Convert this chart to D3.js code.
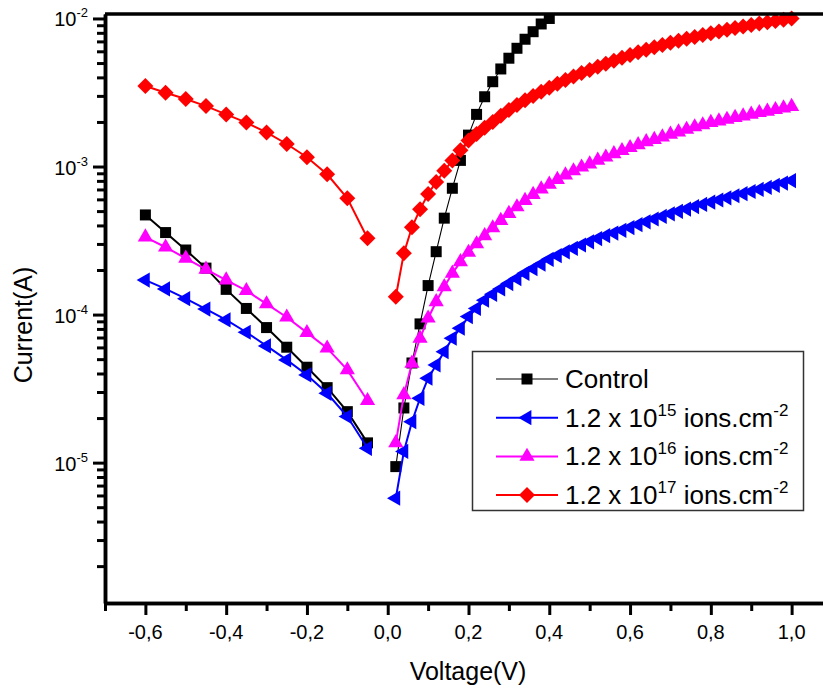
<!DOCTYPE html>
<html>
<head>
<meta charset="utf-8">
<script src="https://cdn.jsdelivr.net/npm/d3@7"></script>
<style>
body { margin: 0; background: #fff; }
text { font-family: Arial, "Liberation Sans", sans-serif; fill: #000; }
</style>
</head>
<body>
<div id="chart"></div>
<script>
// voltages (V)
const vNeg = [-0.6, -0.55, -0.5, -0.45, -0.4, -0.35, -0.3, -0.25, -0.2, -0.15, -0.1, -0.05];
const vPosControl = [0.02, 0.04, 0.06, 0.08, 0.10, 0.12, 0.14, 0.16, 0.18, 0.20,
    0.22, 0.24, 0.26, 0.28, 0.30, 0.32, 0.34, 0.36, 0.38, 0.40];
const vPos = [0.02, 0.04, 0.06, 0.08, 0.10, 0.12, 0.14, 0.16, 0.18, 0.20,
    0.22, 0.24, 0.26, 0.28, 0.30, 0.32, 0.34, 0.36, 0.38, 0.40,
    0.42, 0.44, 0.46, 0.48, 0.50, 0.52, 0.54, 0.56, 0.58, 0.60,
    0.62, 0.64, 0.66, 0.68, 0.70, 0.72, 0.74, 0.76, 0.78, 0.80,
    0.82, 0.84, 0.86, 0.88, 0.90, 0.92, 0.94, 0.96, 0.98, 1.00];

// currents (A)
const controlNeg = [4.71e-4, 3.58e-4, 2.73e-4, 2.06e-4, 1.48e-4, 1.10e-4, 8.17e-5, 6.02e-5, 4.41e-5, 3.21e-5, 2.21e-5, 1.36e-5];
const controlPos = [9.4e-6, 2.34e-5, 4.71e-5, 8.65e-5, 1.57e-4, 2.66e-4, 4.48e-4, 7.13e-4, 1.10e-3, 1.63e-3,
    2.25e-3, 2.96e-3, 3.74e-3, 4.56e-3, 5.39e-3, 6.29e-3, 7.24e-3, 8.14e-3, 9.18e-3, 1.0e-2];

const d15Neg = [1.71e-4, 1.49e-4, 1.28e-4, 1.09e-4, 9.2e-5, 7.6e-5, 6.14e-5, 4.94e-5, 3.91e-5, 2.94e-5, 2.05e-5, 1.25e-5];
const d15Pos = [5.75e-6, 1.19e-5, 1.89e-5, 2.72e-5, 3.72e-5, 4.57e-5, 5.62e-5, 6.92e-5, 8.09e-5, 9.69e-5,
    1.10e-4, 1.25e-4, 1.37e-4, 1.49e-4, 1.62e-4, 1.75e-4, 1.90e-4, 2.04e-4, 2.19e-4, 2.36e-4,
    2.50e-4, 2.65e-4, 2.80e-4, 2.95e-4, 3.10e-4, 3.26e-4, 3.41e-4, 3.55e-4, 3.71e-4, 3.87e-4,
    4.05e-4, 4.23e-4, 4.42e-4, 4.60e-4, 4.79e-4, 4.98e-4, 5.16e-4, 5.36e-4, 5.55e-4, 5.74e-4,
    5.94e-4, 6.15e-4, 6.35e-4, 6.56e-4, 6.78e-4, 7.00e-4, 7.23e-4, 7.46e-4, 7.73e-4, 8.04e-4];

const d16Neg = [3.34e-4, 2.85e-4, 2.40e-4, 2.02e-4, 1.71e-4, 1.45e-4, 1.18e-4, 9.6e-5, 7.55e-5, 5.93e-5, 4.23e-5, 2.62e-5];
const d16Pos = [1.36e-5, 2.87e-5, 4.69e-5, 6.92e-5, 9.45e-5, 1.22e-4, 1.54e-4, 1.90e-4, 2.27e-4, 2.63e-4,
    3.00e-4, 3.40e-4, 3.85e-4, 4.32e-4, 4.81e-4, 5.33e-4, 5.89e-4, 6.46e-4, 7.05e-4, 7.59e-4,
    8.17e-4, 8.75e-4, 9.33e-4, 9.89e-4, 1.04e-3, 1.10e-3, 1.156e-3, 1.22e-3, 1.28e-3, 1.34e-3,
    1.40e-3, 1.47e-3, 1.52e-3, 1.58e-3, 1.65e-3, 1.71e-3, 1.78e-3, 1.85e-3, 1.91e-3, 1.98e-3,
    2.03e-3, 2.08e-3, 2.14e-3, 2.19e-3, 2.25e-3, 2.31e-3, 2.36e-3, 2.42e-3, 2.48e-3, 2.54e-3];

const d17Neg = [3.50e-3, 3.15e-3, 2.86e-3, 2.56e-3, 2.25e-3, 1.98e-3, 1.70e-3, 1.42e-3, 1.155e-3, 8.87e-4, 6.1e-4, 3.28e-4];
const d17Pos = [1.32e-4, 2.60e-4, 3.89e-4, 5.14e-4, 6.53e-4, 7.87e-4, 9.35e-4, 1.10e-3, 1.29e-3, 1.50e-3,
    1.66e-3, 1.83e-3, 2.00e-3, 2.20e-3, 2.41e-3, 2.60e-3, 2.80e-3, 3.00e-3, 3.20e-3, 3.40e-3,
    3.62e-3, 3.84e-3, 4.06e-3, 4.28e-3, 4.49e-3, 4.72e-3, 4.95e-3, 5.19e-3, 5.43e-3, 5.67e-3,
    5.91e-3, 6.15e-3, 6.39e-3, 6.62e-3, 6.85e-3, 7.07e-3, 7.29e-3, 7.51e-3, 7.73e-3, 7.95e-3,
    8.17e-3, 8.39e-3, 8.61e-3, 8.83e-3, 9.05e-3, 9.25e-3, 9.44e-3, 9.63e-3, 9.82e-3, 1.0e-2];

const xMajor = [-0.6, -0.4, -0.2, 0.0, 0.2, 0.4, 0.6, 0.8, 1.0];
const xMinor = [-0.7, -0.5, -0.3, -0.1, 0.1, 0.3, 0.5, 0.7, 0.9];
const yMajorExp = [-5, -4, -3, -2];

const series = [
    { label: "Control", sup: null, color: "#000000", shape: "square", neg: controlNeg, pos: controlPos, vp: vPosControl, wNeg: 2, wPos: 1.1, wLeg: 1.2 },
    { label: "1.2 x 10", sup: "15", color: "#0000ff", shape: "left", neg: d15Neg, pos: d15Pos, vp: vPos, wNeg: 2, wPos: 2, wLeg: 2 },
    { label: "1.2 x 10", sup: "16", color: "#ff00ff", shape: "up", neg: d16Neg, pos: d16Pos, vp: vPos, wNeg: 2, wPos: 2, wLeg: 2 },
    { label: "1.2 x 10", sup: "17", color: "#ff0000", shape: "diamond", neg: d17Neg, pos: d17Pos, vp: vPos, wNeg: 2, wPos: 2, wLeg: 2 }
];

const W = 823, H = 688;
const svg = d3.select("#chart").append("svg").attr("width", W).attr("height", H);

const x = d3.scaleLinear().domain([-0.7, 1.1]).range([105, 832]);
const y = d3.scaleLog().domain([1.127e-6, 1.072e-2]).range([603, 14]);

function markerPath(shape) {
    if (shape === "square") return d3.symbol(d3.symbolSquare, 121)();
    if (shape === "diamond") return d3.symbol(d3.symbolSquare, 128)();
    return d3.symbol(d3.symbolTriangle, 100)();
}
function markerRotate(shape) {
    if (shape === "diamond") return 45;
    if (shape === "left") return -90;
    return 0;
}

// data
const line = d3.line().x(d => x(d[0])).y(d => y(d[1]));
const plot = svg.append("g");
series.forEach(s => {
    const negPts = vNeg.map((v, i) => [v, s.neg[i]]);
    const posPts = s.vp.map((v, i) => [v, s.pos[i]]);
    plot.append("path").attr("d", line(negPts)).attr("fill", "none")
        .attr("stroke", s.color).attr("stroke-width", s.wNeg);
    plot.append("path").attr("d", line(posPts)).attr("fill", "none")
        .attr("stroke", s.color).attr("stroke-width", s.wPos);
    plot.append("g").selectAll("path").data(negPts.concat(posPts)).enter().append("path")
        .attr("d", markerPath(s.shape))
        .attr("transform", d => `translate(${x(d[0])},${y(d[1])}) rotate(${markerRotate(s.shape)})`)
        .attr("fill", s.color);
});

// axes
const yMinor = [];
yMajorExp.concat([-6]).forEach(e => {
    for (let k = 2; k <= 9; k++) {
        const v = k * Math.pow(10, e);
        if (v > y.domain()[0] && v < y.domain()[1]) yMinor.push(v);
    }
});

const axisStyle = g => {
    g.select(".domain").attr("stroke-width", 3.5);
    g.selectAll(".tick line").attr("stroke-width", 3);
    g.selectAll(".tick text").remove();
};

svg.append("g").attr("transform", "translate(105,0)")
    .call(d3.axisLeft(y).tickValues(yMinor).tickSize(8).tickSizeOuter(0).tickFormat(""))
    .call(axisStyle);
svg.append("g").attr("transform", "translate(105,0)")
    .call(d3.axisLeft(y).tickValues(yMajorExp.map(e => Math.pow(10, e))).tickSize(12).tickSizeOuter(0).tickFormat(""))
    .call(axisStyle);
svg.append("g").attr("transform", "translate(0,603)")
    .call(d3.axisBottom(x).tickValues(xMinor).tickSize(8).tickSizeOuter(0).tickFormat(""))
    .call(axisStyle);
svg.append("g").attr("transform", "translate(0,603)")
    .call(d3.axisBottom(x).tickValues(xMajor).tickSize(12).tickSizeOuter(0).tickFormat(""))
    .call(axisStyle);

// top frame
svg.append("line").attr("x1", 105).attr("x2", 832).attr("y1", 14).attr("y2", 14)
    .attr("stroke", "#000").attr("stroke-width", 3.5);

// tick labels
svg.append("g").selectAll("text").data(xMajor).enter().append("text")
    .attr("x", d => x(d)).attr("y", 639)
    .attr("text-anchor", "middle").attr("font-size", 20)
    .text(d => d3.format(".1f")(d).replace("−", "-").replace(".", ","));

const yl = svg.append("g").selectAll("text").data(yMajorExp).enter().append("text")
    .attr("x", 88).attr("y", d => y(Math.pow(10, d)) + 8)
    .attr("text-anchor", "end").attr("font-size", 20);
yl.append("tspan").text("10");
yl.append("tspan").attr("dy", -9).attr("font-size", 13).text(d => d);

// axis titles
svg.append("text").attr("x", 468).attr("y", 680).attr("text-anchor", "middle")
    .attr("font-size", 25).text("Voltage(V)");
svg.append("text").attr("transform", "translate(32,325) rotate(-90)").attr("text-anchor", "middle")
    .attr("font-size", 25).text("Current(A)");

// legend
const leg = svg.append("g");
leg.append("rect").attr("x", 472.5).attr("y", 351.5).attr("width", 331).attr("height", 159)
    .attr("fill", "#fff").attr("stroke", "#333").attr("stroke-width", 1.5);
series.forEach((s, i) => {
    const cy = 379 + i * 38.7;
    leg.append("line").attr("x1", 496).attr("x2", 558).attr("y1", cy).attr("y2", cy)
        .attr("stroke", s.color).attr("stroke-width", s.wLeg);
    leg.append("path").attr("d", markerPath(s.shape))
        .attr("transform", `translate(527,${cy}) rotate(${markerRotate(s.shape)})`)
        .attr("fill", s.color);
    const t = leg.append("text").attr("x", 565).attr("y", cy + 9).attr("font-size", 26);
    t.append("tspan").text(s.label);
    if (s.sup) {
        t.append("tspan").attr("dy", -11).attr("font-size", 17).text(s.sup);
        t.append("tspan").attr("dy", 11).text(" ions.cm");
        t.append("tspan").attr("dy", -11).attr("font-size", 17).text("-2");
    }
});
</script>
</body>
</html>
